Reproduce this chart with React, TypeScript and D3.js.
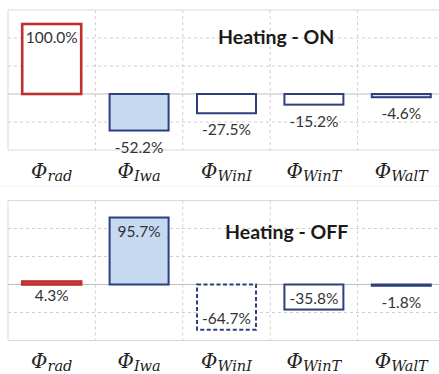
import React from 'react';
import * as d3 from 'd3';

// Heat-flux components, share of the total (%)
const components = ['rad', 'Iwa', 'WinI', 'WinT', 'WalT'];
const heatingOn = [100.0, -52.2, -27.5, -15.2, -4.6];
const heatingOff = [4.3, 95.7, -64.7, -35.8, -1.8];
const yTicks = [-80, -40, 0, 40, 80, 120];
const panelTitles = ['Heating - ON', 'Heating - OFF'];

// where each value label sits relative to its bar
const labelPlaceOn = ['inTop', 'below', 'below', 'below', 'below'];
const labelPlaceOff = ['base', 'inTop', 'inBottom', 'inBottom', 'below'];

const RED = '#c0302f';
const NAVY = '#2e3f80';
const LIGHT_BLUE = '#c5d9f0';

type BarStyle = { fill: string; stroke: string; width: number; dash?: string };
const stylesOn: BarStyle[] = [
  { fill: '#ffffff', stroke: RED, width: 2.6 },
  { fill: LIGHT_BLUE, stroke: NAVY, width: 2 },
  { fill: '#ffffff', stroke: NAVY, width: 2 },
  { fill: '#ffffff', stroke: NAVY, width: 2 },
  { fill: '#dfe6f2', stroke: NAVY, width: 2 },
];
const stylesOff: BarStyle[] = [
  { fill: '#e07070', stroke: RED, width: 2.6 },
  { fill: LIGHT_BLUE, stroke: NAVY, width: 2 },
  { fill: '#ffffff', stroke: NAVY, width: 2, dash: '4,2.5' },
  { fill: '#ffffff', stroke: NAVY, width: 2 },
  { fill: NAVY, stroke: NAVY, width: 2 },
];

const W = 439;
const H = 374;
const X0 = 8;
const X1 = 445;

const x = d3.scaleBand<string>().domain(components).range([X0, X1]).paddingInner(0).paddingOuter(0);
const barW = x.bandwidth() * 0.675;

const labelFont = "Lato, 'Open Sans', sans-serif";

function Panel({ top, bottom, values, places, styles, title, titleX, titleY, axisY }: {
  top: number; bottom: number; values: number[]; places: string[]; styles: BarStyle[];
  title: string; titleX: number; titleY: number; axisY: number;
}) {
  const y = d3.scaleLinear().domain([-80, 120]).range([bottom, top]);
  const y0 = y(0);
  return (
    <g>
      {/* plot frame */}
      <line x1={X0} x2={X1} y1={top} y2={top} stroke="#d9d9d9" strokeWidth={1} />
      <line x1={X0} x2={X1} y1={bottom} y2={bottom} stroke="#d9d9d9" strokeWidth={1} />
      <line x1={X0} x2={X0} y1={top} y2={bottom} stroke="#d9d9d9" strokeWidth={1} />
      {/* horizontal grid */}
      {yTicks.filter(t => t !== 0 && t !== 120 && t !== -80).map(t => (
        <line key={t} x1={X0} x2={X1} y1={y(t)} y2={y(t)} stroke="#cfcfcf" strokeWidth={1} strokeDasharray="3,3" />
      ))}
      {/* vertical grid between categories */}
      {components.slice(1).map(c => (
        <line key={c} x1={x(c)!} x2={x(c)!} y1={top} y2={bottom} stroke="#cfcfcf" strokeWidth={1} strokeDasharray="3,3" />
      ))}
      {/* zero line */}
      <line x1={X0} x2={X1} y1={y0} y2={y0} stroke="#bfbfbf" strokeWidth={1.2} />
      {/* bars */}
      {values.map((v, i) => {
        const c = components[i];
        const cx = x(c)! + x.bandwidth() / 2;
        const yTop = Math.min(y(v), y0);
        const h = Math.abs(y(v) - y0);
        const s = styles[i];
        return (
          <rect key={c} x={cx - barW / 2} y={yTop} width={barW} height={Math.max(h, 0.5)}
            fill={s.fill} stroke={s.stroke} strokeWidth={s.width} strokeDasharray={s.dash} />
        );
      })}
      {/* value labels */}
      {values.map((v, i) => {
        const c = components[i];
        const cx = x(c)! + x.bandwidth() / 2;
        const yTop = Math.min(y(v), y0);
        const yBot = Math.max(y(v), y0);
        const p = places[i];
        const ly = p === 'inTop' ? yTop + 13
          : p === 'inBottom' ? yBot - 12
          : p === 'base' ? y0 + 10
          : yBot + 16;
        return (
          <text key={c} x={cx} y={ly} textAnchor="middle" dominantBaseline="central"
            fontFamily={labelFont} fontSize={15.5} fill="#333">
            {v.toFixed(1)}%
          </text>
        );
      })}
      {/* panel title */}
      <text x={titleX} y={titleY} textAnchor="start" fontFamily={labelFont} fontWeight={700} fontSize={19.5} fill="#1a1a1a">
        {title}
      </text>
      {/* category axis labels */}
      {components.map(c => {
        const cx = x(c)! + x.bandwidth() / 2;
        return (
          <text key={c} x={cx} y={axisY} textAnchor="middle" fontFamily="'DejaVu Serif', serif" fontStyle="italic" fill="#222">
            <tspan fontSize={20}>Φ</tspan>
            <tspan fontSize={14.5} dy={3}>{c}</tspan>
          </text>
        );
      })}
    </g>
  );
}

export default function App() {
  return (
    <svg width={W} height={H} style={{ position: 'absolute', left: 0, top: 0, background: '#fff' }}>
      <rect width={W} height={H} fill="#fff" />
      <Panel top={10} bottom={150} values={heatingOn} places={labelPlaceOn} styles={stylesOn}
        title={panelTitles[0]} titleX={218} titleY={43.5} axisY={178} />
      <line x1={0} x2={W} y1={186} y2={186} stroke="#efefef" strokeWidth={1} />
      <Panel top={200.5} bottom={340.5} values={heatingOff} places={labelPlaceOff} styles={stylesOff}
        title={panelTitles[1]} titleX={225} titleY={239} axisY={368} />
    </svg>
  );
}
